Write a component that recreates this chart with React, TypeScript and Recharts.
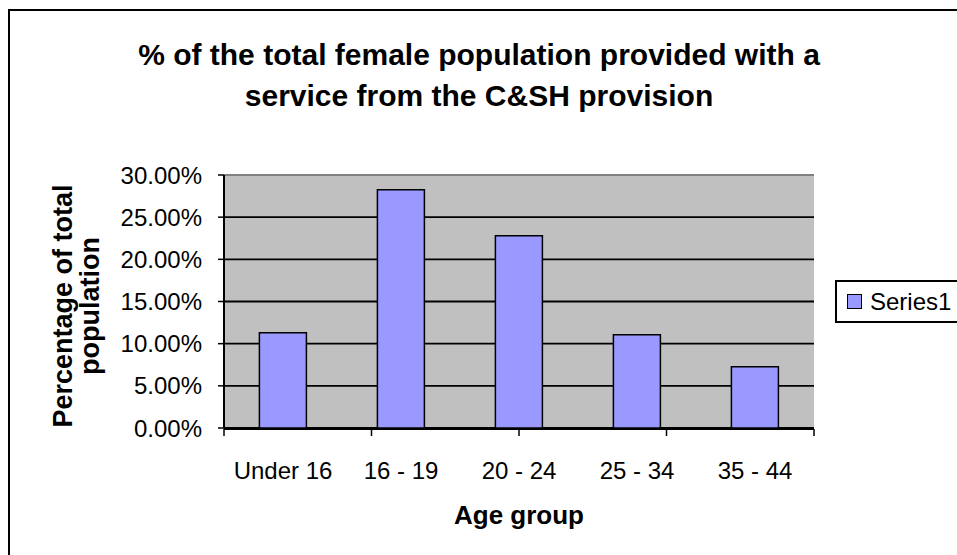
import React from 'react';
import { BarChart, Bar, XAxis, YAxis, CartesianGrid, ReferenceLine, Legend } from 'recharts';

const categories = ['Under 16', '16 - 19', '20 - 24', '25 - 34', '35 - 44'];
const series1Values = [0.113, 0.2825, 0.228, 0.1105, 0.0727];
const yTicks = [0, 0.05, 0.1, 0.15, 0.2, 0.25, 0.3];
const edgeTicks = [0, 1, 2, 3, 4, 5];
const seriesName = 'Series1';
const titleLines = ['% of the total female population provided with a', 'service from the C&SH provision'];
const yTitleLines = ['Percentage of total', 'population'];
const xTitle = 'Age group';

const data = categories.map((c, i) => ({ name: c, Series1: series1Values[i] }));

const FONT = '"Liberation Sans", Arial, sans-serif';

const renderLegend = (props: any) => {
  const payload = props.payload || [];
  return (
    <div
      style={{
        border: '2px solid #000',
        height: 39,
        width: 140,
        display: 'flex',
        alignItems: 'center',
        background: '#fff',
        boxSizing: 'content-box',
      }}
    >
      {payload.map((p: any) => (
        <div key={p.value} style={{ display: 'flex', alignItems: 'center' }}>
          <span
            style={{
              display: 'inline-block',
              width: 13,
              height: 13,
              marginLeft: 10,
              marginRight: 8,
              background: p.color,
              border: '1px solid #000',
            }}
          />
          <span style={{ fontSize: 24, fontFamily: FONT, color: '#000' }}>{p.value}</span>
        </div>
      ))}
    </div>
  );
};

export default function App() {
  return (
    <div
      style={{
        position: 'fixed',
        left: 0,
        top: 0,
        width: 957,
        height: 555,
        overflow: 'hidden',
        background: '#fff',
        fontFamily: FONT,
      }}
    >
      <div
        style={{
          position: 'absolute',
          left: 8,
          top: 9,
          width: 1000,
          height: 600,
          border: '2px solid #000',
        }}
      />
      <div
        style={{
          position: 'absolute',
          left: 79,
          top: 34,
          width: 800,
          textAlign: 'center',
          fontSize: 30,
          fontWeight: 'bold',
          lineHeight: '41px',
          color: '#000',
        }}
      >
        {titleLines.map((l) => (
          <div key={l}>{l}</div>
        ))}
      </div>
      <div
        style={{
          position: 'absolute',
          left: 77 - 150,
          top: 306 - 27,
          width: 300,
          height: 54,
          transform: 'rotate(-90deg)',
          transformOrigin: 'center center',
          textAlign: 'center',
          fontSize: 27,
          fontWeight: 'bold',
          lineHeight: '27px',
          color: '#000',
        }}
      >
        {yTitleLines.map((l) => (
          <div key={l}>{l}</div>
        ))}
      </div>
      <div
        style={{
          position: 'absolute',
          left: 519 - 150,
          top: 500,
          width: 300,
          textAlign: 'center',
          fontSize: 26,
          fontWeight: 'bold',
          lineHeight: '30px',
          color: '#000',
        }}
      >
        {xTitle}
      </div>
      <div style={{ position: 'absolute', left: 0, top: 0 }}>
        <BarChart
          width={1000}
          height={600}
          data={data}
          margin={{ top: 175, right: 186, bottom: 170, left: 0 }}
          barCategoryGap="30%"
        >
          <CartesianGrid vertical={false} stroke="#000" strokeWidth={1.8} fill="#C0C0C0" />
          <XAxis
            dataKey="name"
            height={1}
            axisLine={false}
            tickLine={false}
            tickSize={0}
            tickMargin={34}
            interval={0}
            tick={{ fontSize: 24, fill: '#000', fontFamily: FONT }}
          />
          <XAxis
            xAxisId="edges"
            type="number"
            domain={[0, 5]}
            ticks={edgeTicks}
            allowDataOverflow
            height={1}
            tickSize={7}
            tickFormatter={() => ''}
            axisLine={{ stroke: '#000', strokeWidth: 2 }}
            tickLine={{ stroke: '#000', strokeWidth: 1.5 }}
          />
          <YAxis
            width={224}
            domain={[0, 0.3]}
            ticks={yTicks}
            tickFormatter={(v: number) => (v * 100).toFixed(2) + '%'}
            tickSize={6}
            tickMargin={16}
            axisLine={{ stroke: '#000', strokeWidth: 2 }}
            tickLine={{ stroke: '#000', strokeWidth: 1.5 }}
            tick={{ fontSize: 24, fill: '#000', fontFamily: FONT }}
          />
          <ReferenceLine y={0.3} stroke="#808080" strokeWidth={2} />
          <ReferenceLine x={5} xAxisId="edges" stroke="#808080" strokeWidth={2} />
          <Bar
            dataKey="Series1"
            name={seriesName}
            fill="#9999FF"
            stroke="#000"
            strokeWidth={1.5}
            isAnimationActive={false}
          />
          <Legend
            layout="horizontal"
            verticalAlign="middle"
            align="center"
            content={renderLegend}
            wrapperStyle={{ position: 'absolute', left: 835, top: 280, width: 144, height: 43 }}
          />
        </BarChart>
      </div>
    </div>
  );
}
